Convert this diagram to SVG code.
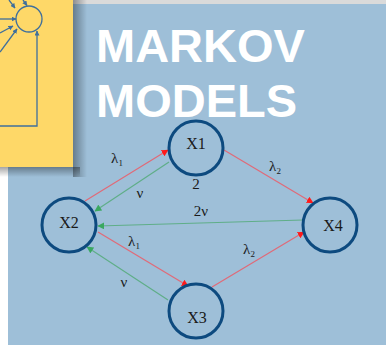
<svg xmlns="http://www.w3.org/2000/svg" width="386" height="345" viewBox="0 0 386 345">
<defs>
<style>
.node{fill:none;stroke:#0d4a7f;stroke-width:3}
.lbl{font-family:"Liberation Serif","DejaVu Serif",serif;font-size:16px;fill:#1a1a1a;text-anchor:middle}
.el{font-family:"Liberation Serif","DejaVu Serif",serif;font-size:15px;fill:#1a1a1a;text-anchor:middle}
.sub{font-size:9px}
.red{stroke:#e06a78;stroke-width:1.2;fill:none}
.grn{stroke:#5fae88;stroke-width:1.2;fill:none}
.title{font-family:"Liberation Sans",Arial,sans-serif;font-weight:bold;font-size:47px;fill:#ffffff}
.mini{stroke:#3f6f9c;stroke-width:1.3;fill:none}
</style>
<marker id="ar" viewBox="0 0 10 10" refX="9" refY="5" markerWidth="7" markerHeight="7" orient="auto" markerUnits="userSpaceOnUse"><path d="M0,0L10,5L0,10z" fill="#ff1a1a"/></marker>
<marker id="ag" viewBox="0 0 10 10" refX="9" refY="5" markerWidth="7" markerHeight="7" orient="auto" markerUnits="userSpaceOnUse"><path d="M0,0L10,5L0,10z" fill="#3aa860"/></marker>
<marker id="am" viewBox="0 0 10 10" refX="9" refY="5" markerWidth="5" markerHeight="5" orient="auto" markerUnits="userSpaceOnUse"><path d="M0,0L10,5L0,10z" fill="#3f6f9c"/></marker>
<linearGradient id="shr" x1="0" y1="0" x2="1" y2="0"><stop offset="0" stop-color="#000" stop-opacity="0.35"/><stop offset="1" stop-color="#000" stop-opacity="0"/></linearGradient>
<linearGradient id="shb" x1="0" y1="0" x2="0" y2="1"><stop offset="0" stop-color="#000" stop-opacity="0.35"/><stop offset="1" stop-color="#000" stop-opacity="0"/></linearGradient>
</defs>
<rect x="0" y="0" width="386" height="345" fill="#9ebfd8"/>
<rect x="0" y="0" width="386" height="4" fill="#dadada"/>
<rect x="0" y="160" width="8" height="185" fill="#ffffff"/>
<rect x="73" y="0" width="14" height="177" fill="url(#shr)"/>
<rect x="0" y="167" width="80" height="10" fill="url(#shb)"/>
<g id="card">
<rect x="0" y="0" width="73" height="167" fill="#fed868"/>
<circle class="mini" cx="29" cy="19" r="13"/>
<line class="mini" x1="23" y1="0" x2="27" y2="5.5" marker-end="url(#am)"/>
<line class="mini" x1="9" y1="0" x2="15" y2="8" marker-end="url(#am)"/>
<line class="mini" x1="0" y1="19" x2="16" y2="19" marker-end="url(#am)"/>
<line class="mini" x1="0" y1="33" x2="13" y2="26" marker-end="url(#am)"/>
<line class="mini" x1="0" y1="52" x2="17" y2="29" marker-end="url(#am)"/>
<polyline class="mini" points="0,126 37,126 37,31" marker-end="url(#am)"/>
</g>
<g id="title">
<text class="title" x="96" y="62">MARKOV</text>
<text class="title" x="96" y="117">MODELS</text>
</g>
<g id="connectors">
<line class="red" x1="85" y1="201" x2="168" y2="150" marker-end="url(#ar)"/>
<line class="grn" x1="169" y1="162" x2="95" y2="211" marker-end="url(#ag)"/>
<line class="red" x1="224" y1="150" x2="313" y2="203" marker-end="url(#ar)"/>
<line class="grn" x1="303" y1="220" x2="98" y2="226" marker-end="url(#ag)"/>
<line class="red" x1="98" y1="232" x2="188" y2="286" marker-end="url(#ar)"/>
<line class="grn" x1="168" y1="300" x2="87" y2="247" marker-end="url(#ag)"/>
<line class="red" x1="212" y1="287" x2="304" y2="232" marker-end="url(#ar)"/>
<text class="el" x="117" y="163">λ<tspan class="sub" dy="3">1</tspan></text>
<text class="el" x="140" y="198">ν</text>
<text class="el" x="196" y="189" font-size="12">2</text>
<text class="el" x="275" y="171">λ<tspan class="sub" dy="3">2</tspan></text>
<text class="el" x="201" y="216">2ν</text>
<text class="el" x="134" y="246">λ<tspan class="sub" dy="3">1</tspan></text>
<text class="el" x="124" y="287">ν</text>
<text class="el" x="249" y="254">λ<tspan class="sub" dy="3">2</tspan></text>
</g>
<g id="X1"><circle class="node" cx="196" cy="148" r="27"/><text class="lbl" x="196" y="149">X1</text></g>
<g id="X2"><circle class="node" cx="69" cy="225" r="27"/><text class="lbl" x="69" y="228">X2</text></g>
<g id="X4"><circle class="node" cx="330" cy="225" r="27"/><text class="lbl" x="333" y="231">X4</text></g>
<g id="X3"><circle class="node" cx="196" cy="311" r="27"/><text class="lbl" x="197" y="323">X3</text></g>
</svg>
